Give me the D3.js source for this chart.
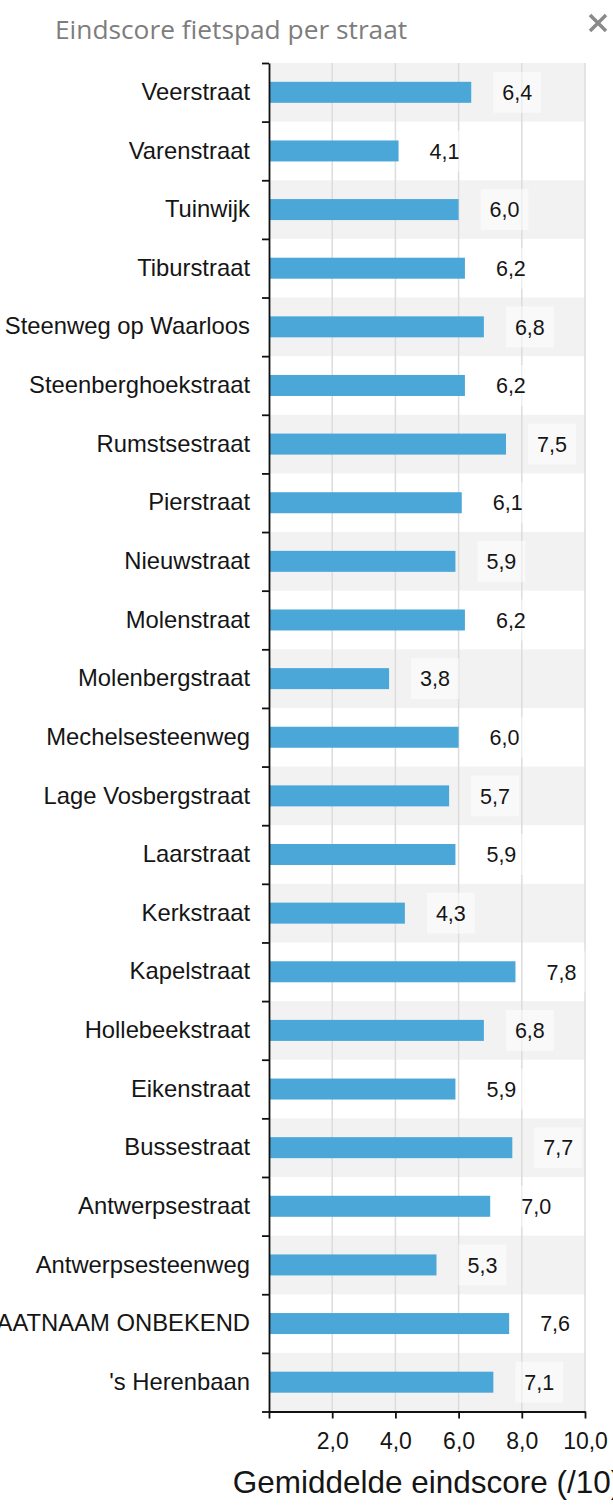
<!DOCTYPE html>
<html>
<head>
<meta charset="utf-8">
<script src="https://cdn.jsdelivr.net/npm/d3@7"></script>
<style>
  html, body { margin: 0; padding: 0; background: #fff; }
  svg { display: block; }
</style>
</head>
<body>
<div id="chart"></div>
<script>
const streets = [
  "Veerstraat", "Varenstraat", "Tuinwijk", "Tiburstraat", "Steenweg op Waarloos",
  "Steenberghoekstraat", "Rumstsestraat", "Pierstraat", "Nieuwstraat", "Molenstraat",
  "Molenbergstraat", "Mechelsesteenweg", "Lage Vosbergstraat", "Laarstraat", "Kerkstraat",
  "Kapelstraat", "Hollebeekstraat", "Eikenstraat", "Bussestraat", "Antwerpsestraat",
  "Antwerpsesteenweg", "STRAATNAAM ONBEKEND", "'s Herenbaan"
];
const scores = [
  6.4, 4.1, 6.0, 6.2, 6.8,
  6.2, 7.5, 6.1, 5.9, 6.2,
  3.8, 6.0, 5.7, 5.9, 4.3,
  7.8, 6.8, 5.9, 7.7, 7.0,
  5.3, 7.6, 7.1
];
const xTicks = [0, 2, 4, 6, 8, 10];

const chartTitle = 'Eindscore fietspad per straat';
const axisTitle  = 'Gemiddelde eindscore (/10)';

const blue  = '#4ba7d8';
const band  = '#f2f2f2';
const grid  = '#dcdcdc';
const ink   = '#151515';
const font  = '"Liberation Sans", Arial, sans-serif';

const nl = d3.formatLocale({ decimal: ',', thousands: '.', grouping: [3], currency: ['€', ''] });
const fmt = nl.format('.1f');

const data = streets.map((s, i) => ({ street: s, score: scores[i], i }));

const W = 613, H = 1507;
const margin = { top: 63, right: 28, bottom: 95.5, left: 269 };
const iW = W - margin.left - margin.right;
const iH = H - margin.top - margin.bottom;

const svg = d3.select('#chart').append('svg').attr('width', W).attr('height', H)
  .style('font-family', font);

// title + close icon
svg.append('text').attr('x', 55).attr('y', 39)
  .style('font-family', '"Open Sans", "Noto Sans", sans-serif')
  .style('font-size', '26.3px').style('fill', '#7d7d7d')
  .text(chartTitle);
svg.append('path').attr('d', 'M590,15L606,31M606,15L590,31')
  .attr('stroke', '#8a8a8a').attr('stroke-width', 3.5).attr('fill', 'none');

const g = svg.append('g').attr('transform', `translate(${margin.left},${margin.top})`);

const x = d3.scaleLinear().domain([0, 10]).range([0, iW]);
const y = d3.scaleBand().domain(streets).range([0, iH]).padding(0);
const yIdx = d3.scaleLinear().domain([0, streets.length]).range([0, iH]);
const barH = 21;

// alternating row bands
g.selectAll('.row').data(data.filter(d => d.i % 2 === 0)).join('rect')
  .attr('class', 'row')
  .attr('x', 0).attr('width', iW)
  .attr('y', d => y(d.street)).attr('height', y.bandwidth())
  .attr('fill', band);

// vertical grid
g.selectAll('.grid').data(xTicks.filter(t => t > 0)).join('line')
  .attr('class', 'grid')
  .attr('x1', d => x(d)).attr('x2', d => x(d))
  .attr('y1', 0).attr('y2', iH)
  .attr('stroke', grid).attr('stroke-width', 1.5);

// bars
g.selectAll('.bar').data(data).join('rect')
  .attr('class', 'bar')
  .attr('x', 0)
  .attr('y', d => y(d.street) + y.bandwidth() / 2 - barH / 2)
  .attr('width', d => x(d.score))
  .attr('height', barH)
  .attr('fill', blue);

// value labels with soft box
const lab = g.selectAll('.vlab').data(data).join('g').attr('class', 'vlab')
  .attr('transform', d => `translate(${x(d.score) + 31},${y(d.street) + y.bandwidth() / 2})`);
lab.append('text')
  .attr('dy', '0.36em')
  .style('font-size', '21.5px').style('fill', ink)
  .text(d => fmt(d.score));
lab.each(function() {
  const t = d3.select(this).select('text');
  const w = t.node().getComputedTextLength();
  d3.select(this).insert('rect', 'text')
    .attr('x', -9).attr('y', -20.5)
    .attr('width', w + 18).attr('height', 41)
    .attr('fill', '#fff').attr('fill-opacity', 0.5);
});

// left axis: category labels
g.append('g').call(d3.axisLeft(y).tickSize(0).tickPadding(19))
  .call(a => a.select('.domain').remove())
  .call(a => a.selectAll('text')
    .style('font-family', font).style('font-size', '23.8px').style('fill', ink));

// left axis: line + boundary ticks
g.append('g').call(d3.axisLeft(yIdx).tickValues(d3.range(0, streets.length + 1))
    .tickSize(7).tickSizeOuter(0).tickFormat(''))
  .call(a => a.select('.domain').attr('stroke', '#111').attr('stroke-width', 1.8))
  .call(a => a.selectAll('line').attr('stroke', '#111').attr('stroke-width', 1.8));

// bottom axis
g.append('g').attr('transform', `translate(0,${iH})`)
  .call(d3.axisBottom(x).tickValues(xTicks).tickSize(7).tickSizeOuter(0).tickPadding(14)
    .tickFormat(d => d === 0 ? '' : fmt(d)))
  .call(a => a.select('.domain').attr('stroke', '#111').attr('stroke-width', 1.8))
  .call(a => a.selectAll('line').attr('stroke', '#111').attr('stroke-width', 1.8))
  .call(a => a.selectAll('text')
    .style('font-family', font).style('font-size', '23px').style('fill', ink));

// x axis title
g.append('text')
  .attr('x', iW / 2).attr('y', iH + 81.5)
  .attr('text-anchor', 'middle')
  .style('font-size', '31.5px').style('fill', ink)
  .text(axisTitle);
</script>
</body>
</html>
